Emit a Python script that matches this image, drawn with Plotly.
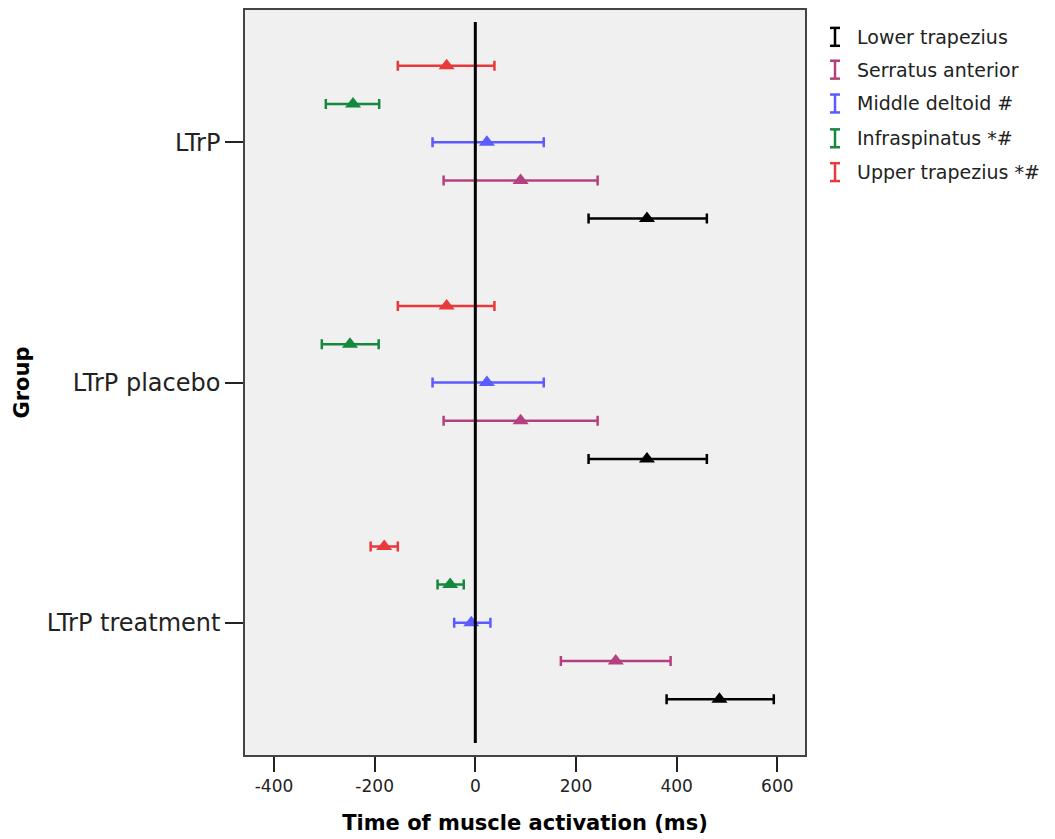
import plotly.graph_objects as go

groups = ["LTrP", "LTrP placebo", "LTrP treatment"]
series = ["Lower trapezius", "Serratus anterior", "Middle deltoid #", "Infraspinatus *#", "Upper trapezius *#"]
colors = ["#000000", "#B5407E", "#5B5BFF", "#15883E", "#E8393B"]
offsets = [0.318, 0.159, 0.0, -0.159, -0.318]

lower_trap_mean = [341, 341, 485]
lower_trap_low = [225, 225, 380]
lower_trap_high = [460, 460, 593]

serratus_mean = [90, 90, 279]
serratus_low = [-63, -63, 170]
serratus_high = [243, 243, 388]

mid_deltoid_mean = [23, 23, -8]
mid_deltoid_low = [-85, -85, -42]
mid_deltoid_high = [136, 136, 30]

infra_mean = [-243, -249, -50]
infra_low = [-297, -305, -75]
infra_high = [-191, -192, -23]

upper_trap_mean = [-57, -57, -181]
upper_trap_low = [-154, -154, -208]
upper_trap_high = [38, 38, -154]

means = [lower_trap_mean, serratus_mean, mid_deltoid_mean, infra_mean, upper_trap_mean]
lows = [lower_trap_low, serratus_low, mid_deltoid_low, infra_low, upper_trap_low]
highs = [lower_trap_high, serratus_high, mid_deltoid_high, infra_high, upper_trap_high]

x_ticks = [-400, -200, 0, 200, 400, 600]

# plot-area pixel geometry (for the hand-drawn legend)
L, R, T, B = 245, 805, 8, 757
def px(xp):
    return (xp - L) / (R - L)
def py(yp):
    return (B - yp) / (B - T)

fig = go.Figure()
for name, col, off, m, lo, hi in zip(series, colors, offsets, means, lows, highs):
    ys = [i + off for i in range(len(groups))]
    fig.add_trace(go.Scatter(
        x=m, y=ys, mode="markers", name=name, showlegend=False,
        marker=dict(symbol="triangle-up", size=14, color=col),
        error_x=dict(type="data", symmetric=False,
                     array=[h - v for h, v in zip(hi, m)],
                     arrayminus=[v - l for v, l in zip(m, lo)],
                     color=col, thickness=2.5, width=5),
    ))

# reference line at 0
fig.add_shape(type="line", xref="x", yref="y", x0=0, x1=0, y0=-0.5, y1=2.5,
              line=dict(color="black", width=3), layer="above")

# legend (drawn manually with error-bar glyphs)
leg_y = [35, 68, 102, 137, 171]
gx = 835
for name, col, yy in zip(series, colors, leg_y):
    for (x0, y0, x1, y1) in [(gx, yy - 9, gx, yy + 9), (gx - 5, yy - 9, gx + 5, yy - 9), (gx - 5, yy + 9, gx + 5, yy + 9)]:
        fig.add_shape(type="line", xref="paper", yref="paper",
                      x0=px(x0), x1=px(x1), y0=py(y0), y1=py(y1),
                      line=dict(color=col, width=2.5))
    fig.add_annotation(xref="paper", yref="paper", x=px(855), y=py(yy),
                       text=name, showarrow=False, xanchor="left", yanchor="middle",
                       font=dict(family="DejaVu Sans", size=19, color="#222222"))

fig.update_layout(
    width=1055, height=839,
    margin=dict(l=L, r=1055 - R, t=T, b=839 - B),
    paper_bgcolor="white", plot_bgcolor="#F0F0F0",
    showlegend=False,
    font=dict(family="DejaVu Sans", color="#222222"),
)
fig.update_xaxes(
    range=[-457.6, 655], tickvals=x_ticks, ticktext=[str(v) for v in x_ticks],
    showgrid=False, zeroline=False,
    showline=True, mirror=True, linecolor="#444444", linewidth=1.5,
    ticks="outside", ticklen=15, tickwidth=2, tickcolor="#222222",
    tickfont=dict(family="DejaVu Sans", size=17, color="#222222"),
    title=dict(text="<b>Time of muscle activation (ms)</b>", standoff=20,
               font=dict(family="DejaVu Sans", size=21, color="black")),
)
fig.update_yaxes(
    range=[2.55, -0.55], tickvals=list(range(len(groups))), ticktext=groups,
    showgrid=False, zeroline=False,
    showline=True, mirror=True, linecolor="#444444", linewidth=1.5,
    ticks="outside", ticklen=18, tickwidth=2, tickcolor="#222222",
    tickfont=dict(family="DejaVu Sans", size=24, color="#222222"),
    title=dict(text="<b>Group</b>", standoff=12,
               font=dict(family="DejaVu Sans", size=21, color="black")),
)

fig.write_html("out.html")
